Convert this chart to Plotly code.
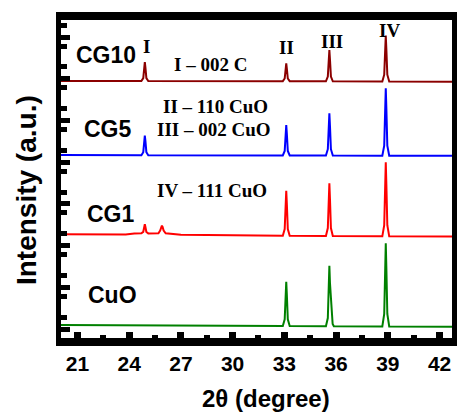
import plotly.graph_objects as go

# ---- XRD patterns (2θ in degrees, intensity in arbitrary units, stacked) ----
cg10_x = [20.05, 24.71, 24.82, 24.875, 24.91, 24.945, 25.00, 25.11,
          32.91, 33.02, 33.075, 33.11, 33.145, 33.20, 33.31,
          35.41, 35.52, 35.575, 35.61, 35.645, 35.70, 35.81,
          38.68, 38.79, 38.845, 38.88, 38.915, 38.97, 39.08, 42.72]
cg10_y = [257.0, 257.0, 259.9, 270.3, 276.0, 270.3, 259.9, 257.0,
          256.8, 259.5, 269.2, 274.7, 269.2, 259.5, 256.8,
          256.7, 261.5, 278.5, 288.0, 278.5, 261.5, 256.7,
          256.5, 263.3, 288.4, 302.5, 288.4, 263.3, 256.5, 256.2]

cg5_x = [20.05, 24.71, 24.82, 24.875, 24.91, 24.945, 25.00, 25.11,
         32.91, 33.02, 33.075, 33.11, 33.145, 33.20, 33.31,
         35.41, 35.52, 35.575, 35.61, 35.645, 35.70, 35.81,
         38.68, 38.79, 38.845, 38.88, 38.915, 38.97, 39.08, 42.72]
cg5_y = [183.0, 182.8, 185.8, 196.8, 202.5, 196.8, 185.8, 182.7,
         182.5, 187.0, 204.0, 213.0, 204.0, 187.0, 182.5,
         182.5, 188.8, 212.0, 224.7, 212.0, 188.8, 182.5,
         182.3, 192.4, 229.5, 249.7, 229.5, 192.4, 182.3, 182.2]

cg1_x = [20.05, 23.80, 24.30, 24.60,
         24.71, 24.82, 24.875, 24.91, 24.945, 25.00, 25.11,
         25.30, 25.60, 25.70, 25.80, 25.86, 25.90, 25.94, 26.00, 26.12,
         26.40, 27.00, 30.00,
         32.91, 33.02, 33.075, 33.11, 33.145, 33.20, 33.31,
         35.41, 35.52, 35.575, 35.61, 35.645, 35.70, 35.81,
         38.68, 38.79, 38.845, 38.88, 38.915, 38.97, 39.08, 42.72]
cg1_y = [103.8, 103.6, 104.5, 105.0,
         104.8, 106.2, 111.0, 113.7, 111.0, 106.0, 104.6,
         104.5, 104.8, 104.8, 107.5, 111.0, 112.3, 111.0, 107.5, 104.7,
         104.0, 103.2, 102.8,
         102.3, 109.0, 133.8, 147.3, 133.8, 109.0, 102.3,
         102.0, 109.9, 138.9, 154.7, 138.9, 109.9, 102.0,
         101.7, 112.8, 153.5, 175.7, 153.5, 112.8, 101.7, 101.5]

cuo_x = [20.05, 29.90, 30.10,
         32.91, 33.02, 33.075, 33.11, 33.145, 33.20, 33.31,
         35.41, 35.52, 35.575, 35.61, 35.645, 35.68, 35.72, 35.80, 35.87,
         38.68, 38.79, 38.845, 38.88, 38.915, 38.97, 39.08, 42.72]
cuo_y = [13.0, 12.8, 12.2,
         12.0, 18.6, 43.0, 56.3, 43.0, 18.6, 12.0,
         11.8, 20.0, 54.0, 72.3, 55.0, 43.0, 38.0, 14.0, 11.8,
         11.5, 24.0, 69.7, 94.7, 69.7, 24.0, 11.5, 11.3]

patterns = [
    ("CG10", cg10_x, cg10_y, "#8B0000"),
    ("CG5", cg5_x, cg5_y, "#0000FF"),
    ("CG1", cg1_x, cg1_y, "#FF0000"),
    ("CuO", cuo_x, cuo_y, "#008000"),
]

x_ticks = [21, 24, 27, 30, 33, 36, 39, 42]

SANS = "Liberation Sans, Arial, sans-serif"
SERIF = "Liberation Serif, Times New Roman, serif"

fig = go.Figure()
for name, xs, ys, color in patterns:
    fig.add_trace(go.Scatter(x=xs, y=ys, mode="lines", name=name,
                             line=dict(color=color, width=2),
                             showlegend=False, hoverinfo="skip"))

# sample labels
sample_labels = [("CG10", 22.68, 283), ("CG5", 22.79, 209),
                 ("CG1", 22.93, 124.5), ("CuO", 23.02, 43)]
for text, x, y in sample_labels:
    fig.add_annotation(x=x, y=y, text=text, showarrow=False,
                       xanchor="center", yanchor="middle",
                       font=dict(family=SANS, size=23, color="black", weight="bold"))

# reflection markers and their assignments
peak_marks = [("I", 25.02, 291.5), ("II", 33.12, 290.5),
              ("III", 35.76, 296.5), ("IV", 39.1, 308)]
assignments = [("I – 002 C", 28.72, 273.5), ("II – 110 CuO", 29.0, 232),
               ("III – 002 CuO", 28.92, 209), ("IV – 111 CuO", 28.8, 147.5)]
for text, x, y in peak_marks + assignments:
    fig.add_annotation(x=x, y=y, text=text, showarrow=False,
                       xanchor="center", yanchor="middle",
                       font=dict(family=SERIF, size=19, color="black", weight="bold"))

# axis titles
fig.add_annotation(xref="paper", yref="paper", x=0.525, y=-0.189,
                   text="2θ (degree)", showarrow=False,
                   xanchor="center", yanchor="middle",
                   font=dict(family=SANS, size=24, color="black", weight="bold"))
fig.add_annotation(xref="paper", yref="paper", x=-0.088, y=0.464,
                   text="Intensity (a.u.)", showarrow=False, textangle=-90,
                   xanchor="center", yanchor="middle",
                   font=dict(family=SANS, size=28, color="black", weight="bold"))

fig.update_xaxes(range=[20.05, 42.72], tickvals=x_ticks,
                 ticks="inside", ticklen=6, tickwidth=7, tickcolor="black",
                 minor=dict(dtick=1.5, tick0=21, ticks="inside", ticklen=3,
                            tickwidth=6, tickcolor="black"),
                 showline=True, linewidth=8, linecolor="black", mirror=True,
                 showgrid=False, zeroline=False,
                 tickfont=dict(family=SANS, size=21, color="black", weight="bold"))
fig.update_yaxes(range=[0, 318], showticklabels=False,
                 tick0=9, dtick=41.7,
                 ticks="inside", ticklen=9, tickwidth=5, tickcolor="black",
                 minor=dict(dtick=20.85, ticks="inside", ticklen=6,
                            tickwidth=5, tickcolor="black"),
                 showline=True, linewidth=5, linecolor="black", mirror=True,
                 showgrid=False, zeroline=False)

fig.update_layout(width=463, height=412,
                  margin=dict(l=61, r=6, t=20, b=74, pad=0),
                  plot_bgcolor="white", paper_bgcolor="white")

fig.write_html("out.html")
